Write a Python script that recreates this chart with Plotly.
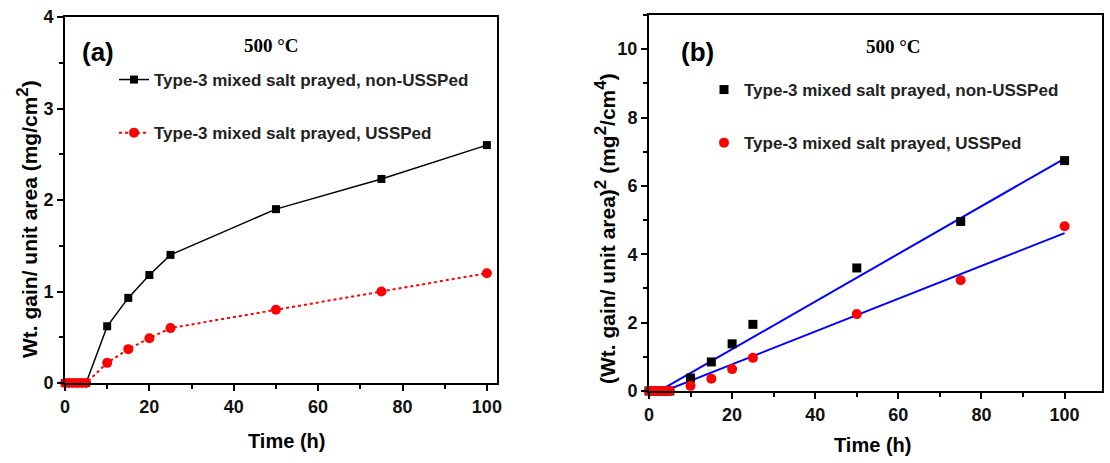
import plotly.graph_objects as go

# ---- data ----
time_a = [0, 1, 2, 3, 4, 5, 10, 15, 20, 25, 50, 75, 100]
gain_non = [0, 0, 0, 0, 0, 0, 0.62, 0.93, 1.18, 1.40, 1.90, 2.23, 2.60]
gain_uss = [0, 0, 0, 0, 0, 0, 0.22, 0.37, 0.49, 0.60, 0.80, 1.00, 1.20]

time_b = [0, 1, 2, 3, 4, 5, 10, 15, 20, 25, 50, 75, 100]
sq_non = [0, 0, 0, 0, 0, 0, 0.38, 0.85, 1.38, 1.95, 3.60, 4.96, 6.74]
sq_uss = [0, 0, 0, 0, 0, 0, 0.15, 0.36, 0.64, 0.97, 2.25, 3.24, 4.82]

fit_x = [0, 100]
fit_non = [-0.17, 6.80]
fit_uss = [-0.18, 4.62]

name_non = "Type-3 mixed salt prayed, non-USSPed"
name_uss = "Type-3 mixed salt prayed, USSPed"

FONT = "Liberation Sans"
W, H = 1110, 463

def px(x):
    return x / W

def py(y):
    return (H - y) / H

fig = go.Figure()

# panel a
fig.add_trace(go.Scatter(x=time_a, y=gain_non, mode="lines+markers", name=name_non,
                         line=dict(color="black", width=1.5),
                         marker=dict(symbol="square", size=8, color="black"),
                         xaxis="x", yaxis="y", legend="legend", legendgroup="a1",
                         cliponaxis=False))
fig.add_trace(go.Scatter(x=time_a, y=gain_uss, mode="lines+markers", name=name_uss,
                         line=dict(color="red", width=2, dash="dot"),
                         marker=dict(symbol="circle", size=10, color="red"),
                         xaxis="x", yaxis="y", legend="legend", legendgroup="a2",
                         cliponaxis=False))

# panel b
fig.add_trace(go.Scatter(x=fit_x, y=fit_non, mode="lines", showlegend=False,
                         line=dict(color="blue", width=2), xaxis="x2", yaxis="y2"))
fig.add_trace(go.Scatter(x=fit_x, y=fit_uss, mode="lines", showlegend=False,
                         line=dict(color="blue", width=2), xaxis="x2", yaxis="y2"))
fig.add_trace(go.Scatter(x=time_b, y=sq_non, mode="markers", name=name_non,
                         marker=dict(symbol="square", size=9, color="black"),
                         xaxis="x2", yaxis="y2", legend="legend2", legendgroup="b1",
                         cliponaxis=False))
fig.add_trace(go.Scatter(x=time_b, y=sq_uss, mode="markers", name=name_uss,
                         marker=dict(symbol="circle", size=10, color="red"),
                         xaxis="x2", yaxis="y2", legend="legend2", legendgroup="b2",
                         cliponaxis=False))

tickfont = dict(family=FONT, size=18, color="#111", weight="bold")
common = dict(showline=True, linecolor="black", linewidth=2, mirror=True,
              ticks="outside", ticklen=6, tickwidth=2, tickcolor="black",
              showgrid=False, zeroline=False, tickfont=tickfont, automargin=False)

def minor(d):
    return dict(dtick=d, ticks="outside", ticklen=4, tickwidth=1.5, tickcolor="black")

legfont = dict(family=FONT, size=17, color="#222", weight="bold")

fig.update_layout(
    width=W, height=H,
    margin=dict(l=0, r=0, t=0, b=0, autoexpand=False),
    paper_bgcolor="white", plot_bgcolor="white",
    xaxis=dict(domain=[px(65), px(497)], range=[0, 102.4], dtick=20, minor=minor(10),
               anchor="y", **common),
    yaxis=dict(domain=[py(383), py(17)], range=[0, 4], dtick=1, minor=minor(0.5),
               anchor="x", **common),
    xaxis2=dict(domain=[px(649), px(1102)], range=[0, 109], dtick=20, minor=minor(10),
                anchor="y2", **common),
    yaxis2=dict(domain=[py(391), py(15)], range=[0, 11], dtick=2, minor=minor(1),
                anchor="x2", **common),
    legend=dict(x=px(114), y=py(62), xanchor="left", yanchor="top",
                bgcolor="rgba(0,0,0,0)", tracegroupgap=28, font=legfont),
    legend2=dict(x=px(704), y=py(72), xanchor="left", yanchor="top",
                 bgcolor="rgba(0,0,0,0)", tracegroupgap=28, font=legfont),
    showlegend=True,
)

big2 = '<sup><span style="font-size:17px">2</span></sup>'
big4 = '<sup><span style="font-size:17px">4</span></sup>'
ann = [
    dict(text="(a)", x=px(98), y=py(52), font=dict(family=FONT, size=26, color="black", weight="bold")),
    dict(text="500 °C", x=px(271), y=py(45), font=dict(family="Liberation Serif", size=19, color="black", weight="bold")),
    dict(text="(b)", x=px(697), y=py(52), font=dict(family=FONT, size=26, color="black", weight="bold")),
    dict(text="500 °C", x=px(893), y=py(46), font=dict(family="Liberation Serif", size=19, color="black", weight="bold")),
    dict(text="Time (h)", x=px(286), y=py(441), font=dict(family=FONT, size=20, color="black", weight="bold")),
    dict(text="Time (h)", x=px(872), y=py(445), font=dict(family=FONT, size=20, color="black", weight="bold")),
    dict(text="Wt. gain/ unit area (mg/cm" + big2 + ")", x=px(27), y=py(219), textangle=-90,
         font=dict(family=FONT, size=21, color="black", weight="bold")),
    dict(text="(Wt. gain/ unit area)" + big2 + " (mg" + big2 + "/cm" + big4 + ")", x=px(605), y=py(229), textangle=-90,
         font=dict(family=FONT, size=21, color="black", weight="bold")),
]
for a in ann:
    a.update(xref="paper", yref="paper", showarrow=False, xanchor="center", yanchor="middle")
fig.update_layout(annotations=ann)

fig.write_html("out.html", config={"displayModeBar": False},
               post_script="document.body.style.margin='0';")
